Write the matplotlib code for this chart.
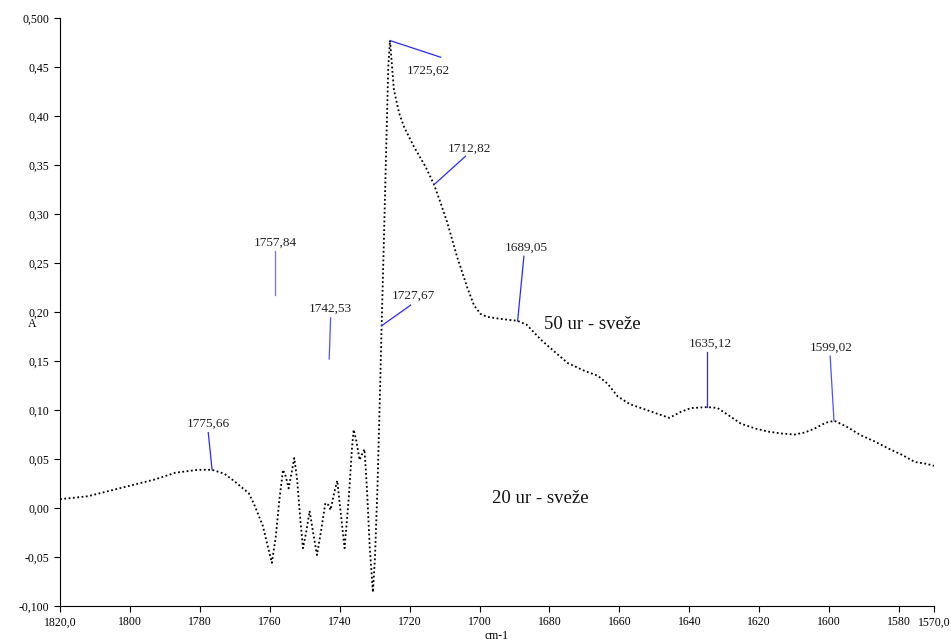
import matplotlib
matplotlib.use("Agg")
import matplotlib.pyplot as plt

# spectrum (wavenumber, absorbance)
wavenumber = [1820, 1812, 1802, 1793, 1787, 1780.5, 1776.5, 1773, 1770, 1766,
              1764.5, 1762, 1760.5, 1759.4, 1758.3, 1757.2, 1756.2, 1755.4, 1754.6, 1753.8,
              1753, 1752.2, 1751.3, 1750.5, 1749.6, 1748.6, 1747.6, 1746.5, 1745.4, 1744.1,
              1743.2, 1742.6, 1741.6, 1740.7, 1739.7, 1738.6, 1737.4, 1736.5, 1736, 1735.2,
              1734.3, 1733.6, 1732.9, 1732.2, 1731.4, 1730.5, 1729.9, 1729.2, 1728.6, 1728.0,
              1727.3, 1726.6, 1726.1, 1725.6, 1724.5, 1723, 1721.6, 1718.8, 1715.4, 1713,
              1711, 1709.2, 1706.3, 1703.5, 1701.6, 1699.7, 1697.7, 1694, 1689.1, 1686.5,
              1682.5, 1678.7, 1674.8, 1670, 1666.2, 1663.4, 1660.5, 1657, 1653.8, 1649,
              1645.7, 1642.5, 1639.5, 1634.7, 1631.9, 1628.5, 1625.2, 1621, 1617.5, 1613.5,
              1609.9, 1607, 1604.2, 1601, 1598.5, 1595, 1590.8, 1587, 1583.2, 1579,
              1575.5, 1572, 1570]
absorbance = [0.009, 0.012, 0.021, 0.029, 0.036, 0.039, 0.039, 0.035, 0.027, 0.015,
              0.004, -0.018, -0.040, -0.056, -0.030, 0.010, 0.039, 0.032, 0.020, 0.035,
              0.051, 0.030, -0.010, -0.041, -0.025, -0.003, -0.025, -0.048, -0.025, 0.005,
              0.003, -0.002, 0.015, 0.028, -0.005, -0.041, 0.010, 0.060, 0.080, 0.068,
              0.049, 0.055, 0.060, 0.020, -0.040, -0.086, -0.050, 0.020, 0.100, 0.186,
              0.280, 0.380, 0.450, 0.477, 0.427, 0.403, 0.389, 0.369, 0.348, 0.330,
              0.310, 0.291, 0.255, 0.225, 0.207, 0.198, 0.195, 0.193, 0.191, 0.187,
              0.172, 0.160, 0.148, 0.140, 0.135, 0.127, 0.114, 0.106, 0.102, 0.096,
              0.092, 0.098, 0.102, 0.103, 0.102, 0.094, 0.086, 0.081, 0.078, 0.076,
              0.075, 0.077, 0.081, 0.087, 0.089, 0.083, 0.074, 0.068, 0.061, 0.054,
              0.047, 0.045, 0.043]

# peak labels: text, line start (x, y), line end (x, y), text anchor (x, y)
peak_labels = ["1775,66", "1757,84", "1742,53", "1727,67", "1725,62", "1712,82", "1689,05", "1635,12", "1599,02"]
peak_from = [(1776.5, 0.039), (1758.4, 0.217), (1743.0, 0.152), (1728.0, 0.186), (1725.6, 0.477),
             (1713.0, 0.330), (1689.1, 0.191), (1634.9, 0.103), (1598.6, 0.089)]
peak_to = [(1777.6, 0.077), (1758.4, 0.262), (1742.6, 0.194), (1719.7, 0.207), (1711.1, 0.460),
           (1704.0, 0.359), (1687.3, 0.257), (1634.9, 0.159), (1599.7, 0.155)]
peak_text = [(1777.6, 0.080), (1758.4, 0.265), (1742.6, 0.197), (1718.9, 0.210), (1714.6, 0.440),
             (1702.8, 0.361), (1686.5, 0.259), (1634.0, 0.162), (1599.5, 0.157)]
line_colors = ["#2a2aff", "#7070ff", "#5050ff", "#2a2aff", "#2a2aff", "#2a2aff", "#2a2aff", "#2a2aff", "#5050ff"]

xticks = [1820, 1800, 1780, 1760, 1740, 1720, 1700, 1680, 1660, 1640, 1620, 1600, 1580, 1570]
xtick_labels = ["1820,0", "1800", "1780", "1760", "1740", "1720", "1700", "1680", "1660",
                "1640", "1620", "1600", "1580", "1570,0"]
yticks = [-0.10, -0.05, 0.0, 0.05, 0.10, 0.15, 0.20, 0.25, 0.30, 0.35, 0.40, 0.45, 0.50]
ytick_labels = ["-0,100", "-0,05", "0,00", "0,05", "0,10", "0,15", "0,20", "0,25", "0,30",
                "0,35", "0,40", "0,45", "0,500"]

plt.rcParams['font.family'] = ['Liberation Serif', 'DejaVu Serif']

fig = plt.figure(figsize=(9.51, 6.44), dpi=100)
ax = fig.add_axes([0.0631, 0.059, 0.919, 0.913])

ax.plot(wavenumber, absorbance, color="black", linestyle=(0, (1, 1.4)), linewidth=1.3)

for i in range(len(peak_labels)):
    ax.plot([peak_from[i][0], peak_to[i][0]], [peak_from[i][1], peak_to[i][1]],
            color=line_colors[i], linewidth=0.9)
    ax.text(peak_text[i][0], peak_text[i][1], peak_labels[i], fontsize=9.5,
            ha="center", va="bottom", color="#222222")

ax.text(1667.6, 0.187, "50 ur - sveže", fontsize=13.5, ha="center", va="center", color="#111111")
ax.text(1682.5, 0.010, "20 ur - sveže", fontsize=13.5, ha="center", va="center", color="#111111")

ax.set_xlim(1820, 1570)
ax.set_ylim(-0.1, 0.5)
ax.set_xticks(xticks)
ax.set_xticklabels(xtick_labels)
ax.set_yticks(yticks)
ax.set_yticklabels(ytick_labels)
ax.tick_params(direction="out", length=4, width=0.8, labelsize=8.5)
ax.spines['top'].set_visible(False)
ax.spines['right'].set_visible(False)

ax.set_xlabel("cm-1", fontsize=8.5, labelpad=1)
ax.set_ylabel("A", fontsize=8.5, rotation=0)
ax.yaxis.set_label_coords(-0.032, 0.47)

fig.savefig("out.png", dpi=100)
